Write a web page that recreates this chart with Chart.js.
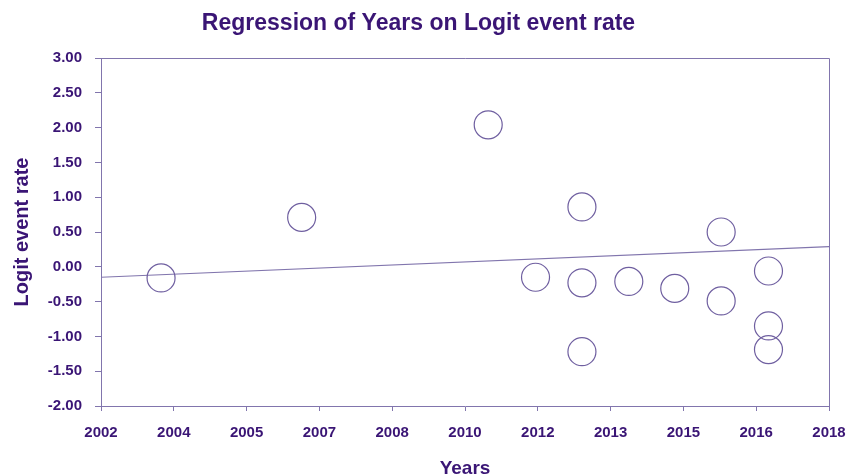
<!DOCTYPE html>
<html>
<head>
<meta charset="utf-8">
<title>Regression of Years on Logit event rate</title>
<script src="https://cdn.jsdelivr.net/npm/chart.js"></script>
<style>
  body { margin: 0; background: #fff; }
  #wrap { width: 860px; height: 475px; }
</style>
</head>
<body>
<div id="wrap"><canvas id="regChart" width="860" height="475"></canvas></div>
<script>
// studies: publication year vs logit event rate
var years = [2003.32, 2006.41, 2010.51, 2011.55, 2012.57, 2012.57, 2012.57, 2013.60, 2014.61, 2015.63, 2015.63, 2016.67, 2016.67, 2016.67];
var logitRates = [-0.16, 0.71, 2.04, -0.15, 0.86, -0.23, -1.22, -0.21, -0.31, 0.50, -0.49, -0.06, -0.85, -1.19];

// fitted regression line end points
var lineYears = [2002, 2018];
var lineValues = [-0.15, 0.29];

var xTickValues = [2002, 2003.6, 2005.2, 2006.8, 2008.4, 2010, 2011.6, 2013.2, 2014.8, 2016.4, 2018];
var xTickLabels = ["2002", "2004", "2005", "2007", "2008", "2010", "2012", "2013", "2015", "2016", "2018"];
var yTickValues = [-2, -1.5, -1, -0.5, 0, 0.5, 1, 1.5, 2, 2.5, 3];
var yTickLabels = ["-2.00", "-1.50", "-1.00", "-0.50", "0.00", "0.50", "1.00", "1.50", "2.00", "2.50", "3.00"];

var textColor = "#3a1575";
var axisColor = "#8175ad";
var circleColor = "#6f5fa0";

var scatterData = [];
for (var i = 0; i < years.length; i++) {
  scatterData.push({x: years[i], y: logitRates[i]});
}
var lineData = [];
for (var i = 0; i < lineYears.length; i++) {
  lineData.push({x: lineYears[i], y: lineValues[i]});
}

// title + box round the plot
var framePlugin = {
  id: "frame",
  afterDatasetsDraw: function(chart) {
    var a = chart.chartArea;
    var c = chart.ctx;
    c.save();
    c.strokeStyle = axisColor;
    c.lineWidth = 1;
    c.beginPath();
    c.moveTo(a.left, a.top + 0.5);
    c.lineTo(a.right + 0.5, a.top + 0.5);
    c.lineTo(a.right + 0.5, a.bottom);
    c.stroke();
    c.restore();
  },
  afterDraw: function(chart) {
    var c = chart.ctx;
    c.save();
    c.fillStyle = textColor;
    c.font = "bold 23px 'Liberation Sans', Arial, sans-serif";
    c.textAlign = "center";
    c.textBaseline = "alphabetic";
    c.fillText("Regression of Years on Logit event rate", 418.5, 30);
    c.restore();
  }
};

var ctx = document.getElementById("regChart");
var regChart = new Chart(ctx, {
  data: {
    datasets: [{
      type: "scatter",
      data: scatterData,
      pointRadius: 14,
      pointHoverRadius: 14,
      pointBackgroundColor: "rgba(0,0,0,0)",
      pointBorderColor: circleColor,
      pointBorderWidth: 1.2
    }, {
      type: "line",
      data: lineData,
      borderColor: axisColor,
      borderWidth: 1.2,
      pointRadius: 0,
      fill: false
    }]
  },
  options: {
    responsive: false,
    animation: false,
    layout: { padding: { top: 58, right: 31, left: 0, bottom: 0 } },
    plugins: {
      legend: { display: false },
      title: { display: false },
      tooltip: { enabled: false }
    },
    scales: {
      x: {
        type: "linear",
        position: "bottom",
        min: 2002,
        max: 2018,
        afterBuildTicks: function(scale) {
          scale.ticks = xTickValues.map(function(v) { return {value: v}; });
        },
        afterFit: function(scale) { scale.height = 69; },
        ticks: {
          color: textColor,
          font: { family: "'Liberation Sans', Arial, sans-serif", size: 15, weight: "bold" },
          padding: 13,
          maxRotation: 0,
          autoSkip: false,
          callback: function(v, i) { return xTickLabels[i]; }
        },
        grid: { drawOnChartArea: false, drawTicks: true, tickLength: 5, color: axisColor },
        border: { display: true, color: axisColor, width: 1 },
        title: {
          display: true,
          text: "Years",
          color: textColor,
          font: { family: "'Liberation Sans', Arial, sans-serif", size: 19, weight: "bold", lineHeight: 0.7 },
          padding: { top: 0, bottom: 0 }
        }
      },
      y: {
        type: "linear",
        min: -2,
        max: 3,
        afterBuildTicks: function(scale) {
          scale.ticks = yTickValues.map(function(v) { return {value: v}; });
        },
        afterFit: function(scale) { scale.width = 101; },
        ticks: {
          color: textColor,
          font: { family: "'Liberation Sans', Arial, sans-serif", size: 15, weight: "bold" },
          padding: 13,
          autoSkip: false,
          callback: function(v, i) { return yTickLabels[i]; }
        },
        grid: { drawOnChartArea: false, drawTicks: true, tickLength: 6, color: axisColor },
        border: { display: true, color: axisColor, width: 1 },
        title: {
          display: true,
          text: "Logit event rate",
          color: textColor,
          font: { family: "'Liberation Sans', Arial, sans-serif", size: 20, weight: "bold", lineHeight: 1.2 },
          padding: { top: 10, bottom: 0 }
        }
      }
    }
  },
  plugins: [framePlugin]
});
</script>
</body>
</html>
